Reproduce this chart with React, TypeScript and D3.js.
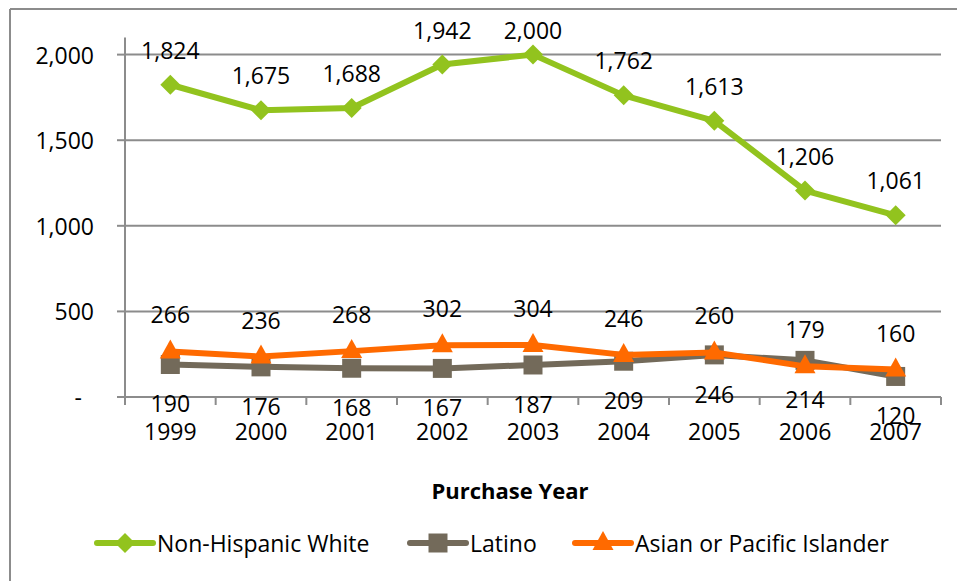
import React from "react";
import * as d3 from "d3";

const years = ["1999", "2000", "2001", "2002", "2003", "2004", "2005", "2006", "2007"];
const nonHispanicWhite = [1824, 1675, 1688, 1942, 2000, 1762, 1613, 1206, 1061];
const latino = [190, 176, 168, 167, 187, 209, 246, 214, 120];
const asianPacific = [266, 236, 268, 302, 304, 246, 260, 179, 160];
const yTicks = [0, 500, 1000, 1500, 2000];
const seriesNames = ["Non-Hispanic White", "Latino", "Asian or Pacific Islander"];

const W = 957;
const H = 581;
const FONT = "'Open Sans', 'Liberation Sans', sans-serif";
const GREEN = "#92C31E";
const GRAY = "#736A5A";
const ORANGE = "#FF6A00";
const GRID = "#8C8C8C";
const FS = 23;

type Shape = "diamond" | "square" | "triangle";

function markerPath(shape: Shape, cx: number, cy: number): string {
  if (shape === "diamond") {
    const r = 10;
    return `M${cx},${cy - r}L${cx + r},${cy}L${cx},${cy + r}L${cx - r},${cy}Z`;
  }
  if (shape === "square") {
    const r = 9.5;
    return `M${cx - r},${cy - r}H${cx + r}V${cy + r}H${cx - r}Z`;
  }
  const w = 10.5;
  return `M${cx},${cy - 12}L${cx + w},${cy + 7}L${cx - w},${cy + 7}Z`;
}

export default function App() {
  const x = d3.scaleBand<string>().domain(years).range([125, 941]);
  const y = d3.scaleLinear().domain([0, 2100]).range([397, 37.5]);
  const cx = (d: string) => (x(d) as number) + x.bandwidth() / 2;
  const fmt = d3.format(",");

  const line = d3
    .line<number>()
    .x((_, i) => cx(years[i]))
    .y((v) => y(v));

  const series = [
    { name: seriesNames[0], values: nonHispanicWhite, color: GREEN, shape: "diamond" as Shape, labelDy: -35 },
    { name: seriesNames[1], values: latino, color: GRAY, shape: "square" as Shape, labelDy: 39 },
    { name: seriesNames[2], values: asianPacific, color: ORANGE, shape: "triangle" as Shape, labelDy: -37 },
  ];

  const boundaries = d3.range(years.length + 1).map((i) => 125 + i * x.step());

  const legendItems = [
    { lx: 97, tx: 157 },
    { lx: 410, tx: 470 },
    { lx: 575, tx: 635 },
  ];

  return (
    <svg
      width={W}
      height={H}
      style={{ position: "absolute", left: 0, top: 0, background: "#fff" }}
      fontFamily={FONT}
    >
      <rect x={0} y={0} width={W} height={H} fill="#fff" />
      {/* outer chart border (clipped on right/bottom) */}
      <line x1={10} y1={9} x2={W + 5} y2={9} stroke={GRID} strokeWidth={2} />
      <line x1={10} y1={9} x2={10} y2={H + 5} stroke={GRID} strokeWidth={2} />

      {/* gridlines */}
      {yTicks.map((t) => (
        <g key={t}>
          {t > 0 && <line x1={125} x2={941} y1={y(t)} y2={y(t)} stroke={GRID} strokeWidth={2} />}
          <line x1={117} x2={125} y1={y(t)} y2={y(t)} stroke={GRID} strokeWidth={2} />
          <text
            x={t === 0 ? 82 : 94}
            y={y(t)}
            textAnchor="end"
            dominantBaseline="central"
            fontSize={FS}
            fill="#000"
          >
            {t === 0 ? "-" : fmt(t)}
          </text>
        </g>
      ))}

      {/* axes */}
      <line x1={125} x2={125} y1={y(2100)} y2={405} stroke={GRID} strokeWidth={2} />
      <line x1={117} x2={941} y1={y(0)} y2={y(0)} stroke={GRID} strokeWidth={2} />
      {boundaries.map((bx, i) => (
        <line key={i} x1={bx} x2={bx} y1={y(0)} y2={405} stroke={GRID} strokeWidth={2} />
      ))}
      {years.map((yr) => (
        <text key={yr} x={cx(yr)} y={431} textAnchor="middle" dominantBaseline="central" fontSize={FS} fill="#000">
          {yr}
        </text>
      ))}

      {/* series lines and markers */}
      {series.map((s) => (
        <g key={s.name}>
          <path d={line(s.values) || ""} fill="none" stroke={s.color} strokeWidth={6} strokeLinejoin="round" strokeLinecap="round" />
          {s.values.map((v, i) => (
            <path key={i} d={markerPath(s.shape, cx(years[i]), y(v))} fill={s.color} />
          ))}
        </g>
      ))}

      {/* data labels */}
      {series.map((s) =>
        s.values.map((v, i) => (
          <text
            key={s.name + i}
            x={cx(years[i])}
            y={Math.max(y(v) + s.labelDy, 30)}
            textAnchor="middle"
            dominantBaseline="central"
            fontSize={FS}
            fill="#000"
          >
            {fmt(v)}
          </text>
        ))
      )}

      {/* axis title */}
      <text x={510} y={490} textAnchor="middle" dominantBaseline="central" fontSize={22} fontWeight="bold" fill="#000">
        Purchase Year
      </text>

      {/* legend */}
      {series.map((s, i) => (
        <g key={s.name}>
          <line
            x1={legendItems[i].lx}
            x2={legendItems[i].lx + 56}
            y1={543}
            y2={543}
            stroke={s.color}
            strokeWidth={6}
            strokeLinecap="round"
          />
          <path d={markerPath(s.shape, legendItems[i].lx + 28, 543)} fill={s.color} />
          <text x={legendItems[i].tx} y={543} dominantBaseline="central" fontSize={FS} fill="#000">
            {s.name}
          </text>
        </g>
      ))}
    </svg>
  );
}
